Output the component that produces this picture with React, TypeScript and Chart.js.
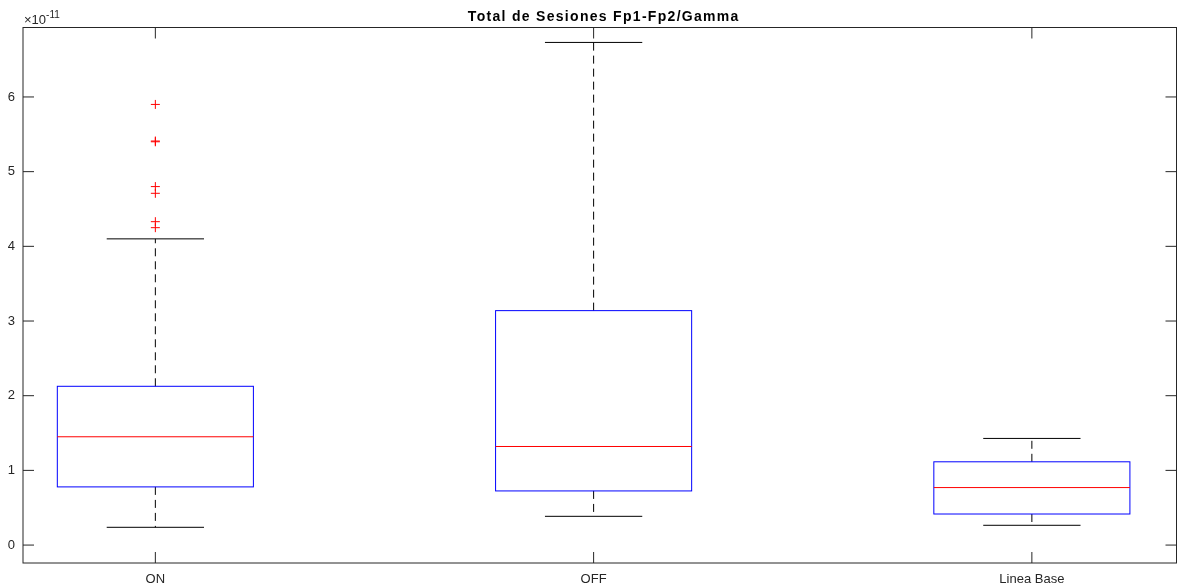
import React, { useEffect, useRef } from "react";
import { Chart, registerables } from "chart.js";

Chart.register(...registerables);

// Values in units of 1e-11 (axis exponent shown as ×10^-11)
const categories = ["ON", "OFF", "Linea Base"];
const whiskerLow = [0.238, 0.385, 0.265];
const q1 = [0.779, 0.725, 0.416];
const median = [1.45, 1.32, 0.77];
const q3 = [2.126, 3.139, 1.115];
const whiskerHigh = [4.1, 6.73, 1.428];
const outliersON = [5.9, 5.41, 5.4, 4.8, 4.71, 4.33, 4.25];
const yTicks = [0, 1, 2, 3, 4, 5, 6];
const exponentLabel = "-11";
const titleText = "Total de Sesiones Fp1-Fp2/Gamma";

const FONT = "'Liberation Sans', Arial, Helvetica, sans-serif";

const boxPlugin = {
  id: "boxDraw",
  afterDatasetsDraw(chart: any) {
    const { ctx, chartArea } = chart;
    const xs = chart.scales.x;
    const ys = chart.scales.y;
    const { left, right, top, bottom } = chartArea;
    ctx.save();
    const halfBox = 0.2237;
    const halfCap = 0.111;
    for (let i = 0; i < categories.length; i++) {
      const c = i + 1;
      const xc = xs.getPixelForValue(c);
      const xl = xs.getPixelForValue(c - halfBox);
      const xr = xs.getPixelForValue(c + halfBox);
      const cl = xs.getPixelForValue(c - halfCap);
      const cr = xs.getPixelForValue(c + halfCap);
      const yq1 = ys.getPixelForValue(q1[i]);
      const yq3 = ys.getPixelForValue(q3[i]);
      const ymed = ys.getPixelForValue(median[i]);
      const ylo = ys.getPixelForValue(whiskerLow[i]);
      const yhi = ys.getPixelForValue(whiskerHigh[i]);
      ctx.strokeStyle = "#000000";
      ctx.lineWidth = 1;
      ctx.setLineDash([8, 5]);
      ctx.beginPath();
      ctx.moveTo(xc, yq3);
      ctx.lineTo(xc, yhi);
      ctx.moveTo(xc, yq1);
      ctx.lineTo(xc, ylo);
      ctx.stroke();
      ctx.setLineDash([]);
      ctx.beginPath();
      ctx.moveTo(cl, yhi);
      ctx.lineTo(cr, yhi);
      ctx.moveTo(cl, ylo);
      ctx.lineTo(cr, ylo);
      ctx.stroke();
      ctx.strokeStyle = "#0000ff";
      ctx.strokeRect(xl, yq3, xr - xl, yq1 - yq3);
      ctx.strokeStyle = "#ff0000";
      ctx.beginPath();
      ctx.moveTo(xl, ymed);
      ctx.lineTo(xr, ymed);
      ctx.stroke();
    }
    ctx.strokeStyle = "#262626";
    ctx.lineWidth = 1;
    ctx.strokeRect(left, top, right - left, bottom - top);
    const tl = 11;
    ctx.beginPath();
    for (const v of yTicks) {
      const y = ys.getPixelForValue(v);
      ctx.moveTo(left, y);
      ctx.lineTo(left + tl, y);
      ctx.moveTo(right, y);
      ctx.lineTo(right - tl, y);
    }
    for (let i = 0; i < categories.length; i++) {
      const x = xs.getPixelForValue(i + 1);
      ctx.moveTo(x, bottom);
      ctx.lineTo(x, bottom - tl);
      ctx.moveTo(x, top);
      ctx.lineTo(x, top + tl);
    }
    ctx.stroke();
    // exponent label
    ctx.fillStyle = "#262626";
    ctx.textBaseline = "alphabetic";
    ctx.textAlign = "left";
    ctx.font = `13px ${FONT}`;
    ctx.fillText("\u00d710", left + 1, 24);
    const w = ctx.measureText("\u00d710").width;
    ctx.font = `10px ${FONT}`;
    ctx.fillText(exponentLabel, left + 1 + w, 18);
    // title
    ctx.fillStyle = "#000000";
    ctx.font = `bold 14px ${FONT}`;
    (ctx as any).letterSpacing = "1.3px";
    ctx.textAlign = "center";
    ctx.fillText(titleText, (left + right) / 2 + 4, 21);
    (ctx as any).letterSpacing = "0px";
    ctx.restore();
  },
};

export default function App() {
  const ref = useRef<HTMLCanvasElement>(null);
  useEffect(() => {
    document.body.style.margin = "0";
    const chart = new Chart(ref.current!, {
      type: "scatter",
      data: {
        datasets: [
          {
            data: outliersON.map((v) => ({ x: 1, y: v })),
            pointStyle: "cross",
            radius: 4.5,
            borderColor: "#ff0000",
            backgroundColor: "#ff0000",
            borderWidth: 1,
          },
        ],
      },
      options: {
        animation: false,
        responsive: false,
        layout: { autoPadding: false, padding: { right: 1.5, left: 0, top: 27.5, bottom: 0 } },
        plugins: {
          legend: { display: false },
          tooltip: { enabled: false },
          title: { display: false },
        },
        scales: {
          x: {
            type: "linear",
            min: 0.698,
            max: 3.33,
            grid: { display: false, drawTicks: false },
            border: { display: false },
            afterBuildTicks: (s: any) => {
              s.ticks = categories.map((_, i) => ({ value: i + 1 }));
            },
            afterFit: (s: any) => {
              s.height = 23;
              s.paddingLeft = 0;
              s.paddingRight = 0;
            },
            ticks: {
              padding: 9,
              color: "#262626",
              font: { family: FONT, size: 13 },
              maxRotation: 0,
              autoSkip: false,
              callback: (v: any) => categories[Math.round(Number(v)) - 1] ?? "",
            },
          },
          y: {
            min: -0.24,
            max: 6.93,
            grid: { display: false, drawTicks: false },
            border: { display: false },
            afterBuildTicks: (s: any) => {
              s.ticks = yTicks.map((v) => ({ value: v }));
            },
            afterFit: (s: any) => {
              s.width = 23;
              s.paddingTop = 0;
              s.paddingBottom = 0;
            },
            ticks: {
              padding: 8,
              color: "#262626",
              font: { family: FONT, size: 13 },
              callback: (v: any) => String(v),
            },
          },
        },
      },
      plugins: [boxPlugin],
    });
    return () => chart.destroy();
  }, []);
  return (
    <div style={{ width: 1178, height: 586, position: "relative" }}>
      <canvas ref={ref} width={1178} height={586} style={{ display: "block" }} />
    </div>
  );
}
